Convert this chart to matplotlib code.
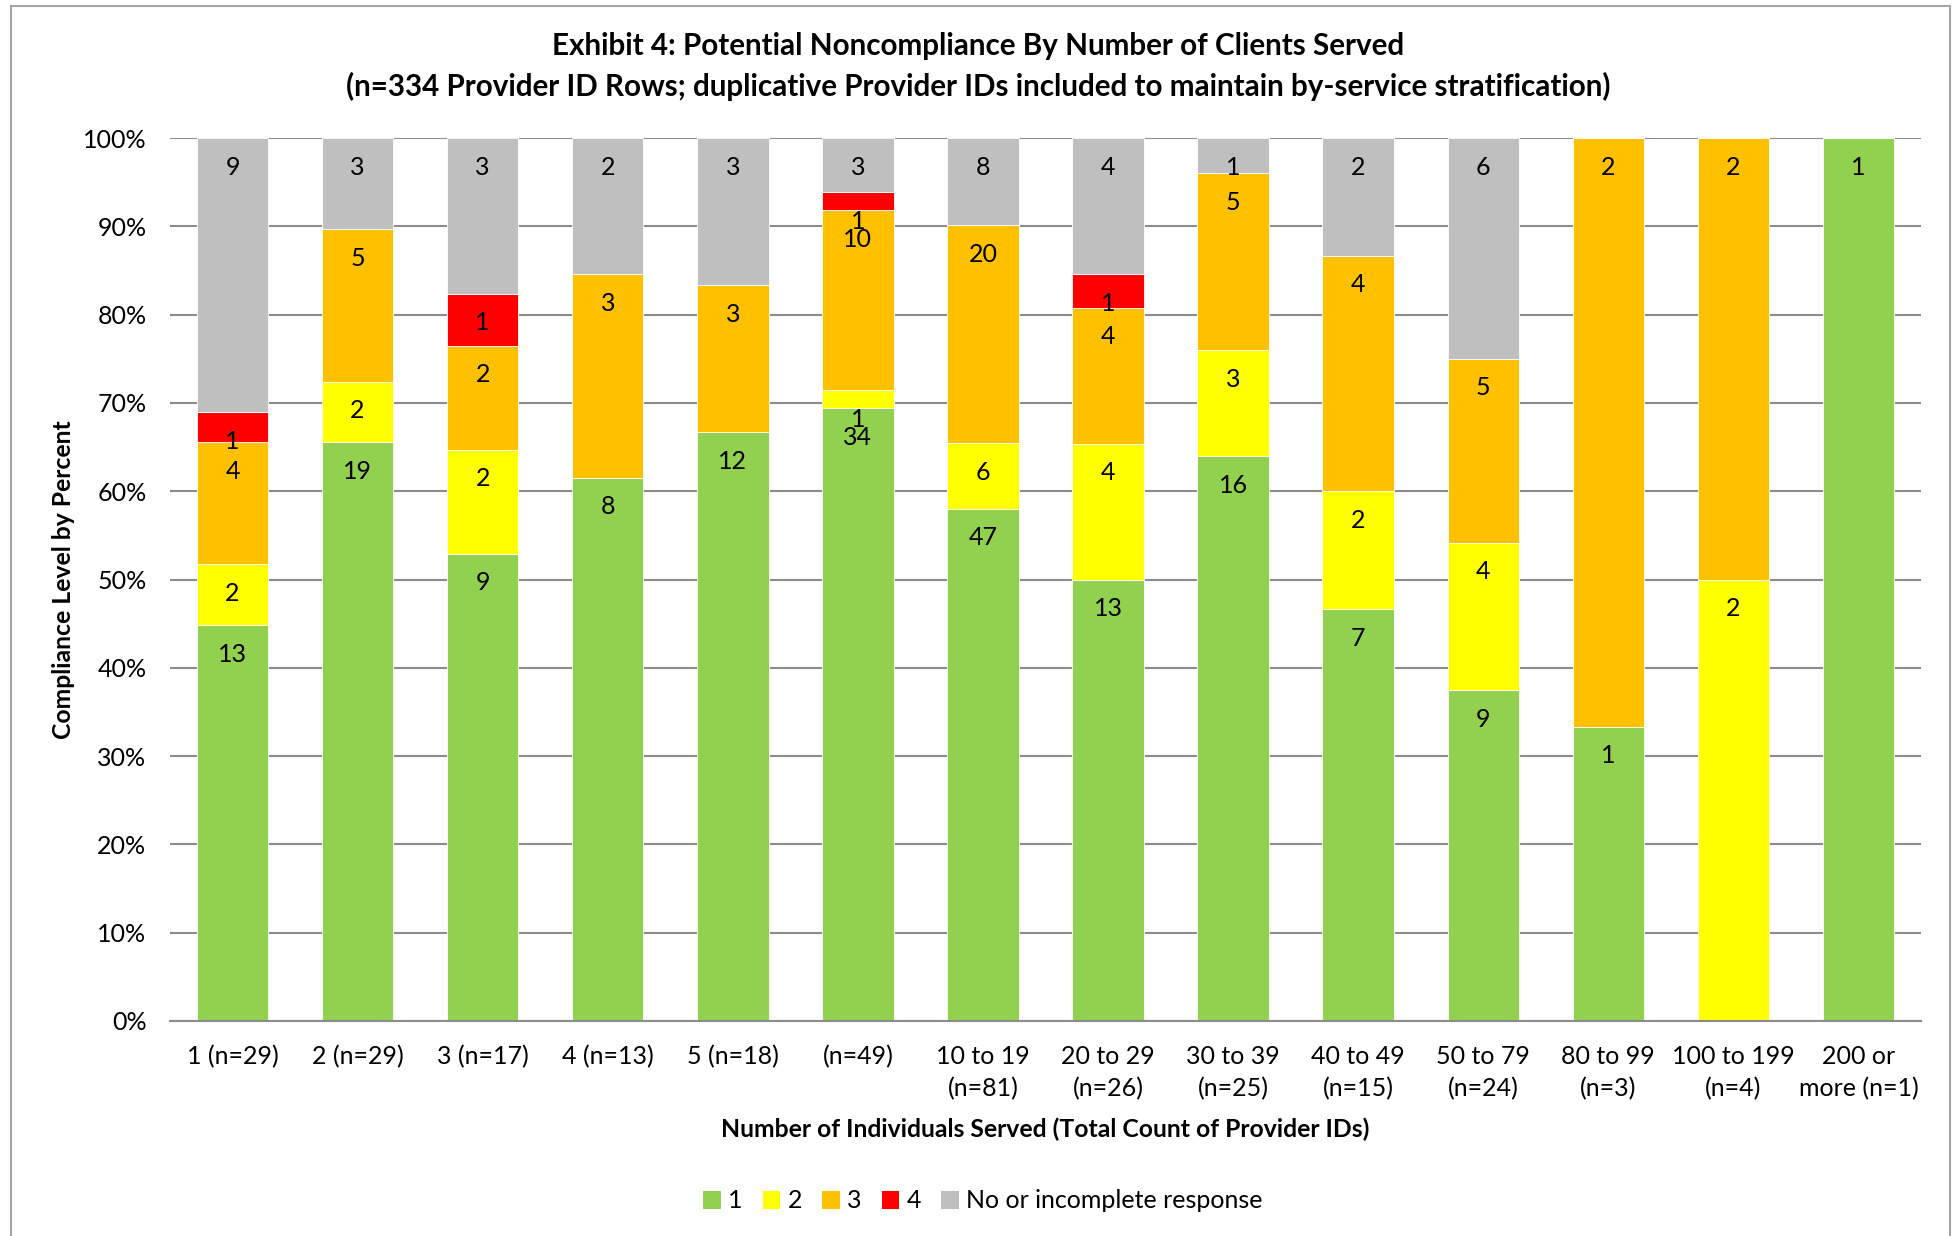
import matplotlib
matplotlib.use("Agg")
import matplotlib.pyplot as plt
from matplotlib.patches import Rectangle
import numpy as np

plt.rcParams['font.family'] = ['Lato', 'DejaVu Sans']

categories = ["1 (n=29)", "2 (n=29)", "3 (n=17)", "4 (n=13)", "5 (n=18)", "(n=49)",
              "10 to 19\n(n=81)", "20 to 29\n(n=26)", "30 to 39\n(n=25)", "40 to 49\n(n=15)",
              "50 to 79\n(n=24)", "80 to 99\n(n=3)", "100 to 199\n(n=4)", "200 or\nmore (n=1)"]
level1 = [13, 19, 9, 8, 12, 34, 47, 13, 16, 7, 9, 1, 0, 1]
level2 = [2, 2, 2, 0, 0, 1, 6, 4, 3, 2, 4, 0, 2, 0]
level3 = [4, 5, 2, 3, 3, 10, 20, 4, 5, 4, 5, 2, 2, 0]
level4 = [1, 0, 1, 0, 0, 1, 0, 1, 0, 0, 0, 0, 0, 0]
no_resp = [9, 3, 3, 2, 3, 3, 8, 4, 1, 2, 6, 0, 0, 0]
series_names = ["1", "2", "3", "4", "No or incomplete response"]
colors = ["#92D050", "#FFFF00", "#FFC000", "#FF0000", "#BFBFBF"]
yticks = [0, 10, 20, 30, 40, 50, 60, 70, 80, 90, 100]

W, H = 1952, 1236
fig = plt.figure(figsize=(W / 100, H / 100), dpi=100)
ax = fig.add_axes([170 / W, 1 - 1021 / H, 1751 / W, (1021 - 138) / H])

data = np.array([level1, level2, level3, level4, no_resp], dtype=float)
totals = data.sum(axis=0)
pct = data / totals * 100
x = np.arange(len(categories))
bottom = np.zeros(len(categories))
for i, name in enumerate(series_names):
    ax.bar(x, pct[i], bottom=bottom, width=0.571, color=colors[i], label=name,
           edgecolor='white', linewidth=0.6, zorder=2)
    for j in range(len(categories)):
        if data[i, j] > 0:
            top = bottom[j] + pct[i, j]
            ax.annotate(f"{int(data[i, j])}", (x[j], top), xytext=(0, -21),
                        textcoords='offset points', ha='center', va='center',
                        fontsize=18, color='black', zorder=5)
    bottom += pct[i]

ax.set_xlim(-0.5, len(categories) - 0.5)
ax.set_ylim(0, 100)
ax.set_yticks(yticks)
ax.set_yticklabels([f"{v}%" for v in yticks])
ax.set_xticks(x)
ax.set_xticklabels(categories, fontsize=18, linespacing=1.5)
ax.tick_params(axis='y', length=0, pad=17, labelsize=18)
ax.tick_params(axis='x', length=0, pad=17)
ax.yaxis.grid(True, color='#8C8C8C', linewidth=1.5, zorder=0)
ax.set_axisbelow(True)
for s in ['left', 'right', 'top']:
    ax.spines[s].set_visible(False)
ax.spines['bottom'].set_color('#8C8C8C')
ax.spines['bottom'].set_linewidth(1.5)

fig.text(978 / W, 1 - 46 / H, "Exhibit 4: Potential Noncompliance By Number of Clients Served",
         ha='center', va='center', fontsize=21.3, fontweight='bold')
fig.text(978 / W, 1 - 86 / H,
         "(n=334 Provider ID Rows; duplicative Provider IDs included to maintain by-service stratification)",
         ha='center', va='center', fontsize=21.3, fontweight='bold')
fig.text(1045 / W, 1 - 1129 / H, "Number of Individuals Served (Total Count of Provider IDs)",
         ha='center', va='center', fontsize=17.8, fontweight='bold')
fig.text(64 / W, 1 - 580 / H, "Compliance Level by Percent", rotation=90,
         ha='center', va='center', fontsize=17.8, fontweight='bold')

leg = fig.legend(loc='center', bbox_to_anchor=(983 / W, 1 - 1201 / H), ncol=5, frameon=False,
                 fontsize=18, handlelength=0.7, handleheight=0.7, handletextpad=0.3,
                 columnspacing=0.8)
for h in leg.legend_handles:
    h.set_linewidth(0)

fig.add_artist(Rectangle((11 / W, -0.01), (1950 - 11) / W, 1.01 - 6 / H, transform=fig.transFigure,
                         fill=False, edgecolor='#A6A6A6', linewidth=1.5))

fig.savefig("out.png", dpi=100)
